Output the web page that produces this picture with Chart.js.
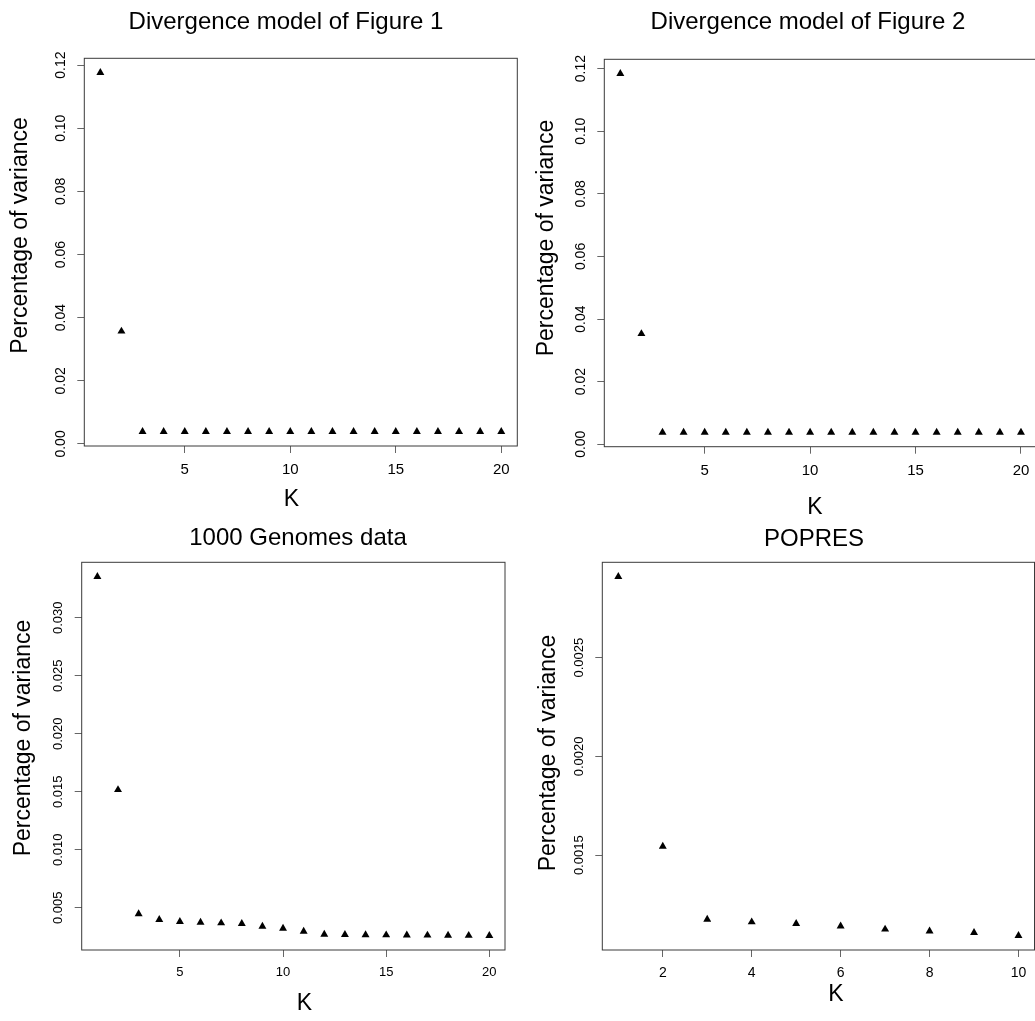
<!DOCTYPE html>
<html><head><meta charset="utf-8">
<script src="https://cdn.jsdelivr.net/npm/chart.js@4/dist/chart.umd.min.js"></script>
<style>
html,body{margin:0;padding:0;background:#fff;overflow:hidden;width:1035px;height:1021px;}
#wrap{position:relative;width:1035px;height:1021px;overflow:hidden;background:#fff;}
canvas{position:absolute;left:0;top:0;}
</style></head><body><div id="wrap">
<canvas id="c1" width="1045" height="1021"></canvas>
<canvas id="c2" width="1045" height="1021"></canvas>
<canvas id="c3" width="1045" height="1021"></canvas>
<canvas id="c4" width="1045" height="1021"></canvas>
</div>
<script>
// ---- data ----
const kTwenty = [1,2,3,4,5,6,7,8,9,10,11,12,13,14,15,16,17,18,19,20];
const kTen = [1,2,3,4,5,6,7,8,9,10];
const fig1Variance = [0.1176,0.0357,0.0039,0.0039,0.0039,0.0039,0.0039,0.0039,0.0039,0.0039,0.0039,0.0039,0.0039,0.0039,0.0039,0.0039,0.0039,0.0039,0.0039,0.0039];
const fig2Variance = [0.1184,0.0353,0.0038,0.0038,0.0038,0.0038,0.0038,0.0038,0.0038,0.0038,0.0038,0.0038,0.0038,0.0038,0.0038,0.0038,0.0038,0.0038,0.0038,0.0038];
const genomesVariance = [0.03355,0.01518,0.00447,0.00398,0.00381,0.00374,0.00369,0.00363,0.00340,0.00323,0.00297,0.00271,0.00268,0.00266,0.00265,0.00264,0.00263,0.00262,0.00261,0.00260];
const popresVariance = [0.00291,0.001545,0.001175,0.001162,0.001154,0.001141,0.001125,0.001116,0.001108,0.001093];
const xTicksTwenty = [5,10,15,20];
const xTicksTen = [2,4,6,8,10];
const yTicksFigure = ['0.00','0.02','0.04','0.06','0.08','0.10','0.12'];
const yTicksGenomes = ['0.005','0.010','0.015','0.020','0.025','0.030'];
const yTicksPopres = ['0.0015','0.0020','0.0025'];
const panelTitles = ['Divergence model of Figure 1','Divergence model of Figure 2','1000 Genomes data','POPRES'];
const xAxisLabel = 'K';
const yAxisLabel = 'Percentage of variance';

// ---- layout ----
const FONT = '"Liberation Sans", Arial, Helvetica, sans-serif';
const CW = 1045, CH = 1021, YW = 60, XH = 40;
const panels = [
  {id:'c1', title:panelTitles[0], k:kTwenty, v:fig1Variance, xt:xTicksTwenty, yt:yTicksFigure,
   box:{l:84.3,t:58.3,r:517.3,b:446}, tPos:[286,22.5], xPos:[291.5,500], yPos:[21,235.5], xTick:15, yTick:14},
  {id:'c2', title:panelTitles[1], k:kTwenty, v:fig2Variance, xt:xTicksTwenty, yt:yTicksFigure,
   box:{l:604.3,t:59.3,r:1037,b:446.7}, tPos:[808,22.5], xPos:[815,508], yPos:[547,238], xTick:15, yTick:14},
  {id:'c3', title:panelTitles[2], k:kTwenty, v:genomesVariance, xt:xTicksTwenty, yt:yTicksGenomes,
   box:{l:81.7,t:562.3,r:505,b:950}, tPos:[298,538], xPos:[304.5,1004], yPos:[24,738], xTick:13, yTick:13},
  {id:'c4', title:panelTitles[3], k:kTen, v:popresVariance, xt:xTicksTen, yt:yTicksPopres,
   box:{l:602.3,t:562.3,r:1034.5,b:950}, tPos:[814,539], xPos:[836,995], yPos:[549,753], xTick:14, yTick:13}
];

function rRange(arr){
  const mn = Math.min(...arr), mx = Math.max(...arr), pad = (mx-mn)*0.04;
  return {min: mn-pad, max: mx+pad};
}

function makeDecor(p){
  return {
    id:'rDecor',
    afterDraw(chart){
      const ctx = chart.ctx, a = chart.chartArea, ys = chart.scales.y;
      ctx.save();
      ctx.strokeStyle = '#3a3a3a'; ctx.lineWidth = 1;
      ctx.strokeRect(a.left, a.top, a.right-a.left, a.bottom-a.top);
      ctx.fillStyle = '#000';
      ctx.font = p.yTick + 'px ' + FONT;
      p.yt.forEach(lbl => {
        const py = ys.getPixelForValue(parseFloat(lbl));
        ctx.save();
        ctx.translate(a.left - 23, py);
        ctx.rotate(-Math.PI/2);
        ctx.textAlign = 'center'; ctx.textBaseline = 'middle';
        ctx.fillText(lbl, 0, 0);
        ctx.restore();
      });
      ctx.textAlign = 'center'; ctx.textBaseline = 'middle';
      ctx.font = '24px ' + FONT;
      ctx.fillText(p.title, p.tPos[0], p.tPos[1]);
      ctx.font = '23px ' + FONT;
      ctx.fillText(xAxisLabel, p.xPos[0], p.xPos[1]);
      ctx.save();
      ctx.translate(p.yPos[0], p.yPos[1]);
      ctx.rotate(-Math.PI/2);
      ctx.fillText(yAxisLabel, 0, 0);
      ctx.restore();
      ctx.restore();
    }
  };
}

panels.forEach(p => {
  const xr = rRange(p.k), yr = rRange(p.v);
  new Chart(document.getElementById(p.id), {
    type: 'scatter',
    data: { datasets: [{
      data: p.k.map((k,i) => ({x:k, y:p.v[i]})),
      pointStyle: 'triangle', pointRadius: 4.6, pointHoverRadius: 4.6,
      backgroundColor: '#000', borderColor: '#000', borderWidth: 0, showLine: false
    }]},
    options: {
      responsive: false, animation: false, devicePixelRatio: 1, events: [],
      layout: { autoPadding: false, padding: {
        left: p.box.l - YW, top: p.box.t, right: CW - p.box.r, bottom: CH - p.box.b - XH } },
      plugins: { legend: {display:false}, tooltip: {enabled:false}, title: {display:false} },
      scales: {
        x: { type:'linear', bounds:'data', min: xr.min, max: xr.max,
          afterBuildTicks: s => { s.ticks = p.xt.map(v => ({value:v})); },
          afterFit: s => { s.height = XH; },
          ticks: { color:'#000', font:{family:FONT, size:p.xTick}, padding: 8, maxRotation:0, autoSkip:false },
          grid: { drawOnChartArea:false, drawTicks:true, tickLength:7, color:'#666' },
          border: { display:false } },
        y: { type:'linear', bounds:'data', min: yr.min, max: yr.max,
          afterBuildTicks: s => { s.ticks = p.yt.map(l => ({value: parseFloat(l)})); },
          afterFit: s => { s.width = YW; },
          ticks: { display:false },
          grid: { drawOnChartArea:false, drawTicks:true, tickLength:7, color:'#666' },
          border: { display:false } }
      }
    },
    plugins: [makeDecor(p)]
  });
});
</script>
</body></html>
